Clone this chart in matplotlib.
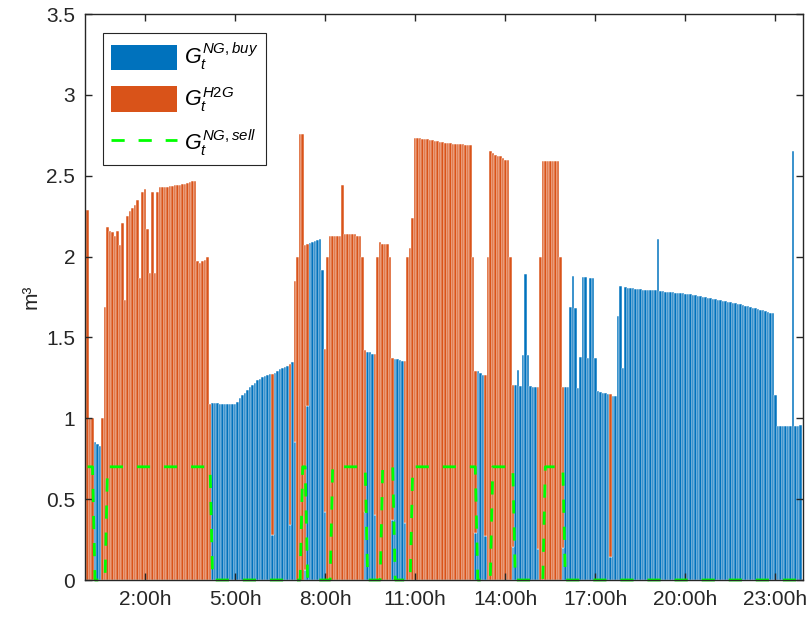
import matplotlib
matplotlib.use('Agg')
import matplotlib.pyplot as plt
import numpy as np
from matplotlib.patches import Patch
from matplotlib.lines import Line2D

plt.rcParams['font.family'] = ['Liberation Sans', 'DejaVu Sans']
plt.rcParams['mathtext.fontset'] = 'custom'
plt.rcParams['mathtext.it'] = 'Liberation Sans:italic'
plt.rcParams['mathtext.rm'] = 'Liberation Sans'
plt.rcParams['lines.scale_dashes'] = False

# ---- data (5-minute steps, one row per hour) ----
buy = [
    0, 0, 0, 0.855, 0.84, 0.83, 0, 0, 0, 0, 0, 0,
    0, 0, 0, 0, 0, 0, 0, 0, 0, 0, 0, 0,
    0, 0, 0, 0, 0, 0, 0, 0, 0, 0, 0, 0,
    0, 0, 0, 0, 0, 0, 0, 0, 0, 0, 0, 0,
    0, 0, 1.092, 1.092, 1.092, 1.091, 1.091, 1.09, 1.09, 1.09, 1.089, 1.089,
    1.102, 1.123, 1.141, 1.158, 1.174, 1.191, 1.205, 1.22, 1.234, 1.246, 1.257, 1.261,
    1.267, 1.273, 0.278, 1.281, 1.294, 1.304, 1.312, 1.318, 1.325, 0.34, 1.345, 0.855,
    0, 0, 0, 0.06, 1.075, 2.085, 2.09, 2.095, 2.1, 2.11, 1.92, 0.42,
    0, 0, 0, 0, 0, 0, 0, 0, 0, 0, 0, 0,
    0, 0, 0, 0.42, 1.41, 1.41, 1.4, 0.4, 0, 0, 0, 0,
    0, 0, 0.37, 1.366, 1.364, 1.36, 1.357, 0.355, 0, 0, 0, 0,
    0, 0, 0, 0, 0, 0, 0, 0, 0, 0, 0, 0,
    0, 0, 0, 0, 0, 0, 0, 0, 0, 0, 0, 0.29,
    1.29, 1.28, 1.27, 0.27, 0, 0, 0, 0, 0, 0, 0, 0,
    0, 0, 0.206, 1.205, 1.3, 1.2, 1.39, 1.89, 1.39, 1.2, 1.195, 1.195,
    0.19, 0, 0, 0, 0, 0, 0, 0, 0, 0, 0.195, 1.195,
    1.195, 1.69, 1.88, 1.685, 1.185, 1.376, 1.875, 1.875, 1.37, 1.87, 1.87, 1.37,
    1.17, 1.16, 1.158, 1.155, 1.15, 0.145, 1.14, 1.137, 1.634, 1.82, 1.314, 1.809,
    1.807, 1.805, 1.803, 1.801, 1.799, 1.798, 1.796, 1.795, 1.794, 1.793, 1.792, 1.791,
    2.11, 1.788, 1.786, 1.784, 1.782, 1.78, 1.778, 1.776, 1.775, 1.774, 1.772, 1.77,
    1.768, 1.766, 1.764, 1.76, 1.757, 1.754, 1.751, 1.748, 1.745, 1.742, 1.739, 1.736,
    1.733, 1.73, 1.726, 1.723, 1.72, 1.717, 1.714, 1.711, 1.708, 1.704, 1.7, 1.696,
    1.692, 1.687, 1.683, 1.679, 1.675, 1.671, 1.667, 1.663, 1.657, 1.652, 1.648, 1.143,
    0.952, 0.952, 0.952, 0.952, 0.952, 0.952, 2.65, 0.952, 0.952, 0.958,
]

h2g = [
    2.29, 1.0, 1.0, 0, 0, 0, 1.0, 1.69, 2.18, 2.16, 2.15, 2.13,
    2.16, 2.07, 2.21, 1.73, 2.25, 2.28, 2.3, 2.32, 2.35, 1.87, 2.4, 2.42,
    2.17, 1.9, 2.4, 1.9, 2.4, 2.43, 2.43, 2.43, 2.43, 2.435, 2.435, 2.44,
    2.44, 2.445, 2.45, 2.45, 2.455, 2.46, 2.465, 2.47, 1.975, 1.96, 1.97, 1.98,
    2.0, 1.09, 0, 0, 0, 0, 0, 0, 0, 0, 0, 0,
    0, 0, 0, 0, 0, 0, 0, 0, 0, 0, 0, 0,
    0, 0, 0.995, 0, 0, 0, 0, 0, 0, 0.993, 0, 0.995,
    2.0, 2.76, 2.76, 2.01, 1.005, 0, 0, 0, 0, 0, 0, 1.01,
    2.0, 2.13, 2.13, 2.13, 2.13, 2.13, 2.445, 2.14, 2.14, 2.14, 2.14, 2.14,
    2.13, 2.13, 2.0, 1.0, 0, 0, 0, 0.995, 2.0, 2.09, 2.08, 2.08,
    2.075, 2.0, 1.0, 0, 0, 0, 0, 1.0, 2.0, 2.05, 2.24, 2.735,
    2.733, 2.731, 2.729, 2.727, 2.725, 2.722, 2.718, 2.714, 2.712, 2.71, 2.706, 2.705,
    2.7, 2.7, 2.698, 2.698, 2.696, 2.694, 2.694, 2.692, 2.69, 2.688, 2.0, 1.0,
    0, 0, 0, 0.997, 2.0, 2.65, 2.64, 2.63, 2.625, 2.62, 2.61, 2.6,
    2.6, 2.0, 1.0, 0, 0, 0, 0, 0, 0, 0, 0, 0,
    1.005, 2.0, 2.59, 2.59, 2.59, 2.59, 2.59, 2.59, 2.59, 2.0, 1.0, 0,
    0, 0, 0, 0, 0, 0, 0, 0, 0, 0, 0, 0,
    0, 0, 0, 0, 0, 1.003, 0, 0, 0, 0, 0, 0,
    0, 0, 0, 0, 0, 0, 0, 0, 0, 0, 0, 0,
    0, 0, 0, 0, 0, 0, 0, 0, 0, 0, 0, 0,
    0, 0, 0, 0, 0, 0, 0, 0, 0, 0, 0, 0,
    0, 0, 0, 0, 0, 0, 0, 0, 0, 0, 0, 0,
    0, 0, 0, 0, 0, 0, 0, 0, 0, 0, 0, 0,
    0, 0, 0, 0, 0, 0, 0, 0, 0, 0,
]

sell = [
    0.7, 0.7, 0.7, 0, 0, 0, 0, 0, 0.7, 0.7, 0.7, 0.7,
    0.7, 0.7, 0.7, 0.7, 0.7, 0.7, 0.7, 0.7, 0.7, 0.7, 0.7, 0.7,
    0.7, 0.7, 0.7, 0.7, 0.7, 0.7, 0.7, 0.7, 0.7, 0.7, 0.7, 0.7,
    0.7, 0.7, 0.7, 0.7, 0.7, 0.7, 0.7, 0.7, 0.7, 0.7, 0.7, 0.7,
    0.7, 0.7, 0, 0, 0, 0, 0, 0, 0, 0, 0, 0,
    0, 0, 0, 0, 0, 0, 0, 0, 0, 0, 0, 0,
    0, 0, 0, 0, 0, 0, 0, 0, 0, 0, 0, 0,
    0, 0, 0.7, 0.7, 0, 0, 0, 0, 0, 0, 0, 0,
    0, 0, 0.7, 0.7, 0.7, 0.7, 0.7, 0.7, 0.7, 0.7, 0.7, 0.7,
    0.7, 0.7, 0.7, 0.7, 0, 0, 0, 0, 0, 0, 0.7, 0.7,
    0.7, 0.7, 0.7, 0, 0, 0, 0, 0, 0, 0, 0.7, 0.7,
    0.7, 0.7, 0.7, 0.7, 0.7, 0.7, 0.7, 0.7, 0.7, 0.7, 0.7, 0.7,
    0.7, 0.7, 0.7, 0.7, 0.7, 0.7, 0.7, 0.7, 0.7, 0.7, 0.7, 0.7,
    0, 0, 0, 0, 0, 0, 0.7, 0.7, 0.7, 0.7, 0.7, 0.7,
    0.7, 0.7, 0.7, 0, 0, 0, 0, 0, 0, 0, 0, 0,
    0, 0, 0, 0.7, 0.7, 0.7, 0.7, 0.7, 0.7, 0.7, 0.7, 0,
    0, 0, 0, 0, 0, 0, 0, 0, 0, 0, 0, 0,
    0, 0, 0, 0, 0, 0, 0, 0, 0, 0, 0, 0,
    0, 0, 0, 0, 0, 0, 0, 0, 0, 0, 0, 0,
    0, 0, 0, 0, 0, 0, 0, 0, 0, 0, 0, 0,
    0, 0, 0, 0, 0, 0, 0, 0, 0, 0, 0, 0,
    0, 0, 0, 0, 0, 0, 0, 0, 0, 0, 0, 0,
    0, 0, 0, 0, 0, 0, 0, 0, 0, 0, 0, 0,
    0, 0, 0, 0, 0, 0, 0, 0, 0, 0,
]

tick_pos = [24, 60, 96, 132, 168, 204, 240, 276]
tick_labels = ['2:00h', '5:00h', '8:00h', '11:00h', '14:00h', '17:00h', '20:00h', '23:00h']
ytick_vals = [0, 0.5, 1, 1.5, 2, 2.5, 3, 3.5]
ytick_labels = ['0', '0.5', '1', '1.5', '2', '2.5', '3', '3.5']
series_labels = [r'$G_t^{NG,buy}$', r'$G_t^{H2G}$', r'$G_t^{NG,sell}$']

BLUE = '#0072BD'
ORANGE = '#D95319'
GREEN = '#00FF00'
AXC = '#262626'

buy_a = np.array(buy, dtype=float)
h2g_a = np.array(h2g, dtype=float)
sell_a = np.array(sell, dtype=float)
x = np.arange(1, len(buy_a) + 1)

fig = plt.figure(figsize=(8.1, 6.19), dpi=100)
ax = fig.add_axes([85 / 810, 1 - 580 / 619, 718 / 810, 566 / 619])

mb = buy_a > 0
ax.bar(x[mb], buy_a[mb], width=1.0, color=BLUE, edgecolor='white', linewidth=0.35)
mo = h2g_a > 0
ax.bar(x[mo], h2g_a[mo], bottom=buy_a[mo], width=1.0, color=ORANGE,
       edgecolor='white', linewidth=0.35)
dash = (0, (9.5, 10))
ax.plot(x, sell_a, color=GREEN, lw=2, linestyle=dash, clip_on=False, zorder=2)

ax.set_xlim(0, 287)
ax.set_ylim(0, 3.5)
ax.set_xticks(tick_pos)
ax.set_xticklabels(tick_labels)
ax.set_yticks(ytick_vals)
ax.set_yticklabels(ytick_labels)
ax.tick_params(direction='in', length=5, width=1, top=True, right=True,
               labelsize=15, pad=7, colors=AXC, labelcolor=AXC)
for s in ax.spines.values():
    s.set_linewidth(1.0)
    s.set_color(AXC)
ax.set_ylabel('m³', fontsize=15, color=AXC, labelpad=4)

handles = [Patch(facecolor=BLUE, edgecolor='none'),
           Patch(facecolor=ORANGE, edgecolor='none'),
           Line2D([0], [0], color=GREEN, lw=2, linestyle=dash)]
leg = ax.legend(handles, series_labels, loc='upper left',
                bbox_to_anchor=(18 / 718, 1 - 19 / 566), borderaxespad=0,
                fontsize=15.5, handlelength=3.1, handleheight=1.45,
                labelspacing=0.6, borderpad=0.35, handletextpad=0.3,
                frameon=True, fancybox=False, edgecolor=AXC, framealpha=1)
leg.get_frame().set_linewidth(0.8)

fig.savefig('out.png', dpi=100)
